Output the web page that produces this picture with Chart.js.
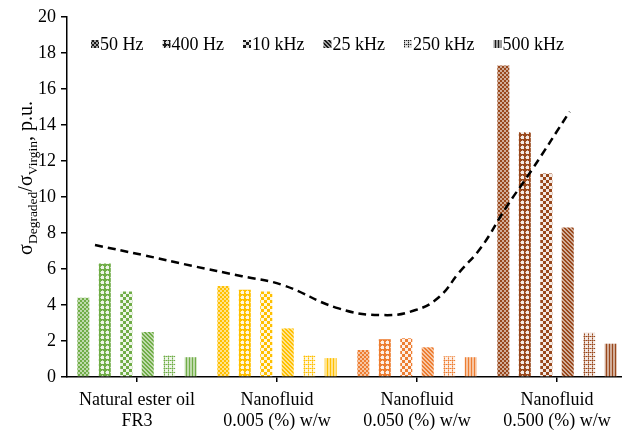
<!DOCTYPE html>
<html>
<head>
<meta charset="utf-8">
<script src="https://cdn.jsdelivr.net/npm/chart.js@4.4.1/dist/chart.umd.min.js"></script>
<style>
  html, body { margin: 0; padding: 0; background: #fff; overflow: hidden; }
  #wrap { width: 622px; height: 431px; overflow: hidden; position: relative; }
  canvas { display: block; }
</style>
</head>
<body>
<div id="wrap"><canvas id="c" width="630" height="431"></canvas></div>
<script>
// Conductivity ratio of degraded vs. virgin samples, per fluid and frequency
const categories = [
  ["Natural ester oil", "FR3"],
  ["Nanofluid", "0.005 (%) w/w"],
  ["Nanofluid", "0.050 (%) w/w"],
  ["Nanofluid", "0.500 (%) w/w"]
];
const frequencies = ["50 Hz", "400 Hz", "10 kHz", "25 kHz", "250 kHz", "500 kHz"];

const hz50   = [4.4, 5.05, 1.5, 17.3];
const hz400  = [6.3, 4.85, 2.1, 13.6];
const khz10  = [4.75, 4.75, 2.15, 11.3];
const khz25  = [2.5, 2.7, 1.65, 8.3];
const khz250 = [1.2, 1.2, 1.15, 2.45];
const khz500 = [1.1, 1.05, 1.1, 1.85];

// Trend curve, x in category units (0 = first fluid)
const trendX = [-0.30, 0.04, 0.39, 0.75, 1.04, 1.44, 1.75, 1.99, 2.16, 2.30, 2.46, 2.64, 2.82, 3.09];
const trendY = [7.33, 6.78, 6.18, 5.60, 5.11, 3.81, 3.44, 3.72, 4.46, 5.80, 7.22, 9.46, 11.5, 14.74];

const yMin = 0, yMax = 20, yStep = 2;

const fluidColors = ["#70AD47", "#FFC000", "#ED7D31", "#99481C"];

function mix(hex, f) {
  const n = parseInt(hex.slice(1), 16);
  const r = (n >> 16) & 255, g = (n >> 8) & 255, b = n & 255;
  const m = v => Math.round(v + (255 - v) * f);
  return `rgb(${m(r)},${m(g)},${m(b)})`;
}

// Hatch fills, one style per frequency
function hatch(kind, c, l, w) {
  const t = document.createElement("canvas");
  const g = t.getContext("2d");
  const px = (x, y, ww, hh, col) => { g.fillStyle = col; g.fillRect(x, y, ww, hh); };
  switch (kind) {
    case 0: // fine checker
      t.width = t.height = 4;
      px(0, 0, 4, 4, c); px(2, 0, 2, 2, l); px(0, 2, 2, 2, l);
      break;
    case 1: // windowed grid
      t.width = t.height = 5;
      px(0, 0, 5, 5, c); px(1, 1, 3, 3, w); px(0, 2, 1, 1, l); px(2, 0, 1, 1, l);
      break;
    case 2: // large checker
      t.width = t.height = 6;
      px(0, 0, 6, 6, w); px(0, 0, 3, 3, c); px(3, 3, 3, 3, c);
      break;
    case 3: // wide downward diagonal
      t.width = t.height = 4;
      px(0, 0, 4, 4, l);
      for (let y = 0; y < 4; y++) { px(y, y, 1, 1, c); px((y + 1) % 4, y, 1, 1, c); }
      break;
    case 4: // small grid
      t.width = t.height = 4;
      px(0, 0, 4, 4, w); px(0, 0, 4, 1, l); px(0, 0, 1, 4, l); px(0, 0, 1, 1, c);
      px(2, 0, 1, 1, c); px(0, 2, 1, 1, c);
      break;
    default: // vertical stripes
      t.width = t.height = 3;
      px(0, 0, 3, 3, l); px(0, 0, 1, 3, c);
      break;
  }
  return g.createPattern(t, "repeat");
}

const seriesValues = [hz50, hz400, khz10, khz25, khz250, khz500];

const ctx = document.getElementById("c").getContext("2d");

// Bars sit on category indices 0..3 of a shared numeric x axis
const barSets = seriesValues.map((vals, k) => ({
  type: "bar",
  label: frequencies[k],
  data: vals.map((v, i) => ({ x: i, y: v })),
  backgroundColor: fluidColors.map(col => hatch(k, col, mix(col, k === 4 ? 0.4 : 0.55), mix(col, 0.88))),
  borderWidth: 0,
  barPercentage: 0.56,
  categoryPercentage: 0.92,
  order: 2
}));

const trendSet = {
  type: "line",
  label: "trend",
  data: trendX.map((x, i) => ({ x, y: trendY[i] })),
  borderColor: "#000",
  borderWidth: 2.5,
  borderDash: [8, 5],
  pointRadius: 0,
  tension: 0.45,
  fill: false,
  order: 0
};

const serif = "'Liberation Serif', 'Times New Roman', serif";

// Legend with hatched swatches, drawn inside the plot area
const hatchLegend = {
  id: "hatchLegend",
  afterDraw(chart) {
    const g = chart.ctx;
    g.save();
    g.font = `18px ${serif}`;
    g.textBaseline = "middle";
    g.fillStyle = "#000";
    let x = 91;
    const y = 44;
    frequencies.forEach((lab, k) => {
      g.fillStyle = hatch(k, "#1a1a1a", "#a0a0a0", "#e0e0e0");
      g.fillRect(x, y - 4, 8, 8);
      g.fillStyle = "#000";
      g.fillText(lab, x + 9, y + 1);
      x += 9 + g.measureText(lab).width + 19;
    });
    g.restore();
  }
};

// Y axis title with subscripts
const yTitle = {
  id: "yTitle",
  afterDraw(chart) {
    const g = chart.ctx;
    const parts = [
      { t: "σ", s: 20, d: 0 },
      { t: "Degraded", s: 13.5, d: 5 },
      { t: "/", s: 20, d: 0 },
      { t: "σ", s: 20, d: 0 },
      { t: "Virgin", s: 13.5, d: 5 },
      { t: ", p.u.", s: 20, d: 0 }
    ];
    g.save();
    g.fillStyle = "#000";
    g.textBaseline = "alphabetic";
    let total = 0;
    parts.forEach(p => { g.font = `${p.s}px ${serif}`; p.w = g.measureText(p.t).width; total += p.w; });
    g.translate(32, 178);
    g.rotate(-Math.PI / 2);
    let x = -total / 2;
    parts.forEach(p => {
      g.font = `${p.s}px ${serif}`;
      g.fillText(p.t, x, p.d);
      x += p.w;
    });
    g.restore();
  }
};

new Chart(ctx, {
  type: "bar",
  data: { datasets: [...barSets, trendSet] },
  options: {
    responsive: false,
    animation: false,
    devicePixelRatio: 1,
    layout: { padding: { top: 17, right: 3, left: 0, bottom: 0 } },
    plugins: { legend: { display: false }, tooltip: { enabled: false } },
    scales: {
      x: {
        type: "linear",
        min: -0.5,
        max: 3.5,
        offset: false,
        afterBuildTicks(s) { s.ticks = categories.map((_, i) => ({ value: i })); },
        grid: { display: true, offset: false, drawOnChartArea: false, drawTicks: true, tickLength: 5, color: "#000", lineWidth: 1.5 },
        border: { display: true, color: "#000", width: 1.5 },
        ticks: {
          color: "#000", font: { family: serif, size: 18 }, padding: 7, maxRotation: 0, autoSkip: false,
          callback: v => categories[v]
        },
        afterFit(s) { s.height = 54; }
      },
      y: {
        type: "linear",
        min: yMin,
        max: yMax,
        grid: { display: true, drawOnChartArea: false, drawTicks: true, tickLength: 6, color: "#000", lineWidth: 1.5 },
        border: { display: true, color: "#000", width: 1.5 },
        ticks: { stepSize: yStep, color: "#000", font: { family: serif, size: 18 }, padding: 5 },
        afterFit(s) { s.width = 67; }
      }
    }
  },
  plugins: [hatchLegend, yTitle]
});
</script>
</body>
</html>
